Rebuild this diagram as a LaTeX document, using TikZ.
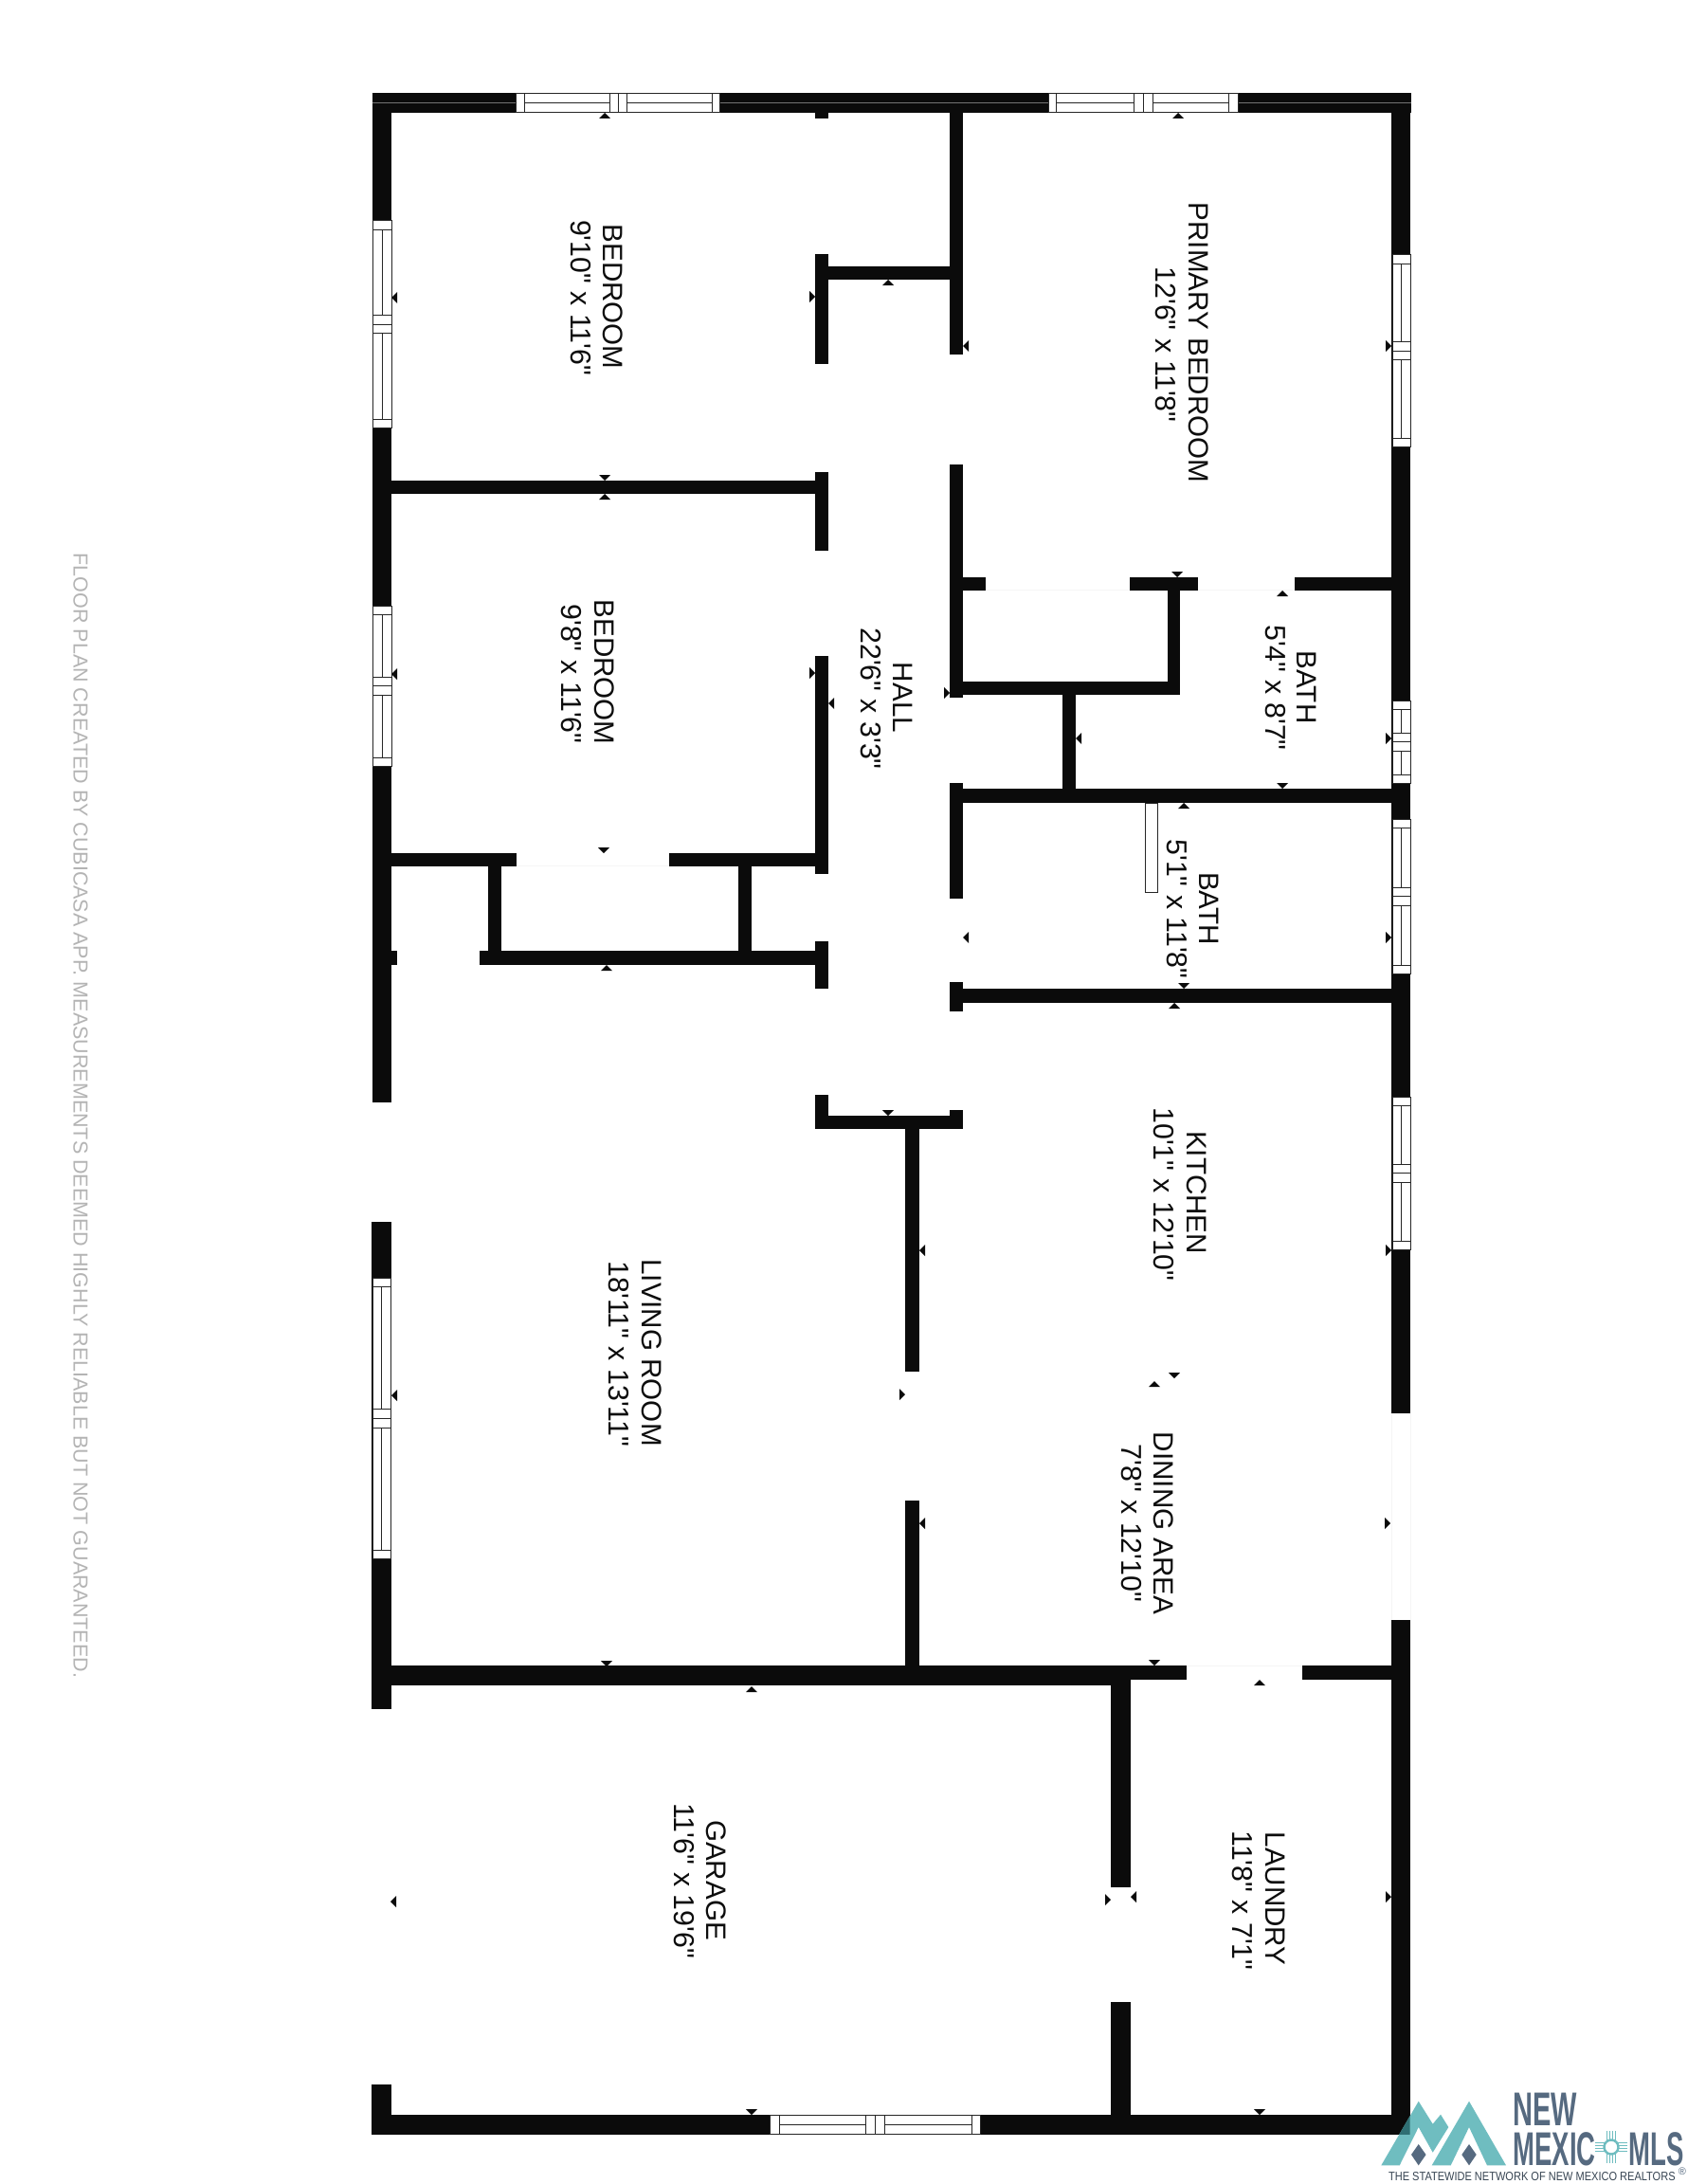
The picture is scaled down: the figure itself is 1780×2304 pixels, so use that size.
\documentclass[tikz,border=0pt]{standalone}
\usepackage{fontspec}
\newfontfamily\planfont{Liberation Sans}
\definecolor{wallc}{HTML}{0B0B0B}
\definecolor{teal1}{HTML}{6FBDC0}
\definecolor{tealdark}{HTML}{2F6F73}
\definecolor{slate1}{HTML}{566A80}
\definecolor{greyt}{HTML}{B4B4B4}
\newcommand\wl[4]{\fill[wallc] (#1,#2) rectangle (#3,#4);}
% horizontal window: x-stops then y1,y2
\newcommand\hwin[9]{%
  \filldraw[winbox] (#1,#8) rectangle (#7,#9);
  \foreach \mx in {#2,#3,#4,#5,#6} \draw[winline] (\mx,#8) -- (\mx,#9);
  \draw[winline] (#2,{(#8+#9)/2}) -- (#3,{(#8+#9)/2});
  \draw[winline] (#5,{(#8+#9)/2}) -- (#6,{(#8+#9)/2});}
% vertical window: y-stops then x1,x2
\newcommand\vwin[9]{%
  \filldraw[winbox] (#8,#1) rectangle (#9,#7);
  \foreach \my in {#2,#3,#4,#5,#6} \draw[winline] (#8,\my) -- (#9,\my);
  \draw[winline] ({(#8+#9)/2},#2) -- ({(#8+#9)/2},#3);
  \draw[winline] ({(#8+#9)/2},#5) -- ({(#8+#9)/2},#6);}
% markers: the apex is at the given point
\newcommand\mU[2]{\fill[wallc] (#1,#2) -- +(-6,6) -- +(6,6) -- cycle;}
\newcommand\mD[2]{\fill[wallc] (#1,#2) -- +(-6,-6) -- +(6,-6) -- cycle;}
\newcommand\mL[2]{\fill[wallc] (#1,#2) -- +(6,-6) -- +(6,6) -- cycle;}
\newcommand\mR[2]{\fill[wallc] (#1,#2) -- +(-6,-6) -- +(-6,6) -- cycle;}
\tikzset{
  winbox/.style={fill=white,draw=black!85,line width=1pt},
  winline/.style={draw=black!85,line width=1pt},
  doorline/.style={draw=black!4,line width=1pt},
  roomtext/.style={rotate=-90,inner sep=0pt,anchor=center,text height=21pt,text depth=0pt,
    font=\planfont\fontsize{29.6}{30}\selectfont,text=black!95},
  roomdim/.style={roomtext,font=\planfont\fontsize{30.3}{30}\selectfont},
  logotext/.style={inner sep=0pt,anchor=west,text=slate1,text height=36pt,text depth=0pt,
    font=\planfont\bfseries\fontsize{50}{50}\selectfont,transform shape},
  ziaray/.style={draw=teal1,line width=1.1pt},
}
\begin{document}
\begin{tikzpicture}[x=1pt,y=-1pt]
\useasboundingbox (0,0) rectangle (1780,2304);
\fill[white] (0,0) rectangle (1780,2304);
% --- outer walls
\wl{393}{98}{1489}{119}
\wl{393}{98}{413}{1163}
\wl{392}{1289}{413}{1803}
\wl{392}{2199}{413}{2252}
\wl{392}{2231}{1488}{2252}
\wl{1468}{98}{1488}{1491}
\wl{1468}{1709}{1488}{2252}
\draw[black!55,line width=.8pt] (393,108.5) -- (1489,108.5);
% --- faint door thresholds
\draw[doorline] (1252,1757.5) -- (1374,1757.5);
\draw[doorline] (1040,622.5) -- (1192,622.5);
\draw[doorline] (1264,622.5) -- (1366,622.5);
\draw[doorline] (545,913.5) -- (706,913.5);
\draw[doorline] (1468,1491) -- (1468,1709);
\draw[doorline] (1488,1491) -- (1488,1709);
% --- bedroom walls
\wl{860}{119}{874}{125}
\wl{860}{268}{874}{384}
\wl{874}{281}{1002}{295}
\wl{1002}{119}{1016}{374}
\wl{413}{507}{860}{521}
\wl{860}{498}{874}{581}
\wl{860}{692}{874}{922}
\wl{413}{900}{545}{914}
\wl{706}{900}{860}{914}
\wl{515}{914}{529}{1003}
\wl{779}{914}{792.5}{1003}
\wl{506}{1003}{860}{1018}
\wl{860}{993}{874}{1043}
\wl{413}{1003}{419}{1018}
% --- bath walls
\wl{1002}{490}{1016}{736}
\wl{1016}{609}{1040}{623}
\wl{1192}{609}{1264}{623}
\wl{1366}{609}{1468}{623}
\wl{1232}{623}{1245}{733}
\wl{1016}{719}{1245}{733}
\wl{1121}{733}{1135}{832}
\wl{1002}{832}{1488}{847}
\wl{1002}{826}{1016}{948}
\wl{1002}{1036}{1016}{1067}
\wl{1016}{1043}{1468}{1058}
\filldraw[fill=white,draw=black!85,line width=1pt] (1208.5,847) rectangle (1221.5,941);
% --- living and kitchen walls
\wl{1002}{1171}{1016}{1191}
\wl{860}{1155}{874}{1191}
\wl{874}{1177}{1002}{1191}
\wl{955}{1191}{970}{1447}
\wl{955}{1583}{970}{1757}
\wl{413}{1757}{1172}{1778}
\wl{1172}{1757}{1252}{1772}
\wl{1374}{1757}{1468}{1772}
\wl{1172}{1772}{1193}{1991}
\wl{1172}{2112}{1193}{2231}
% --- windows
\hwin{544}{553}{643}{652}{661}{751}{759.5}{99}{119}
\hwin{1106}{1114}{1196}{1206}{1216}{1296}{1306}{99}{119}
\hwin{812}{822}{913}{923}{933}{1025}{1034}{2231}{2251}
\vwin{232}{242}{332}{342}{351}{442}{451}{393.5}{413}
\vwin{639}{648}{714}{723.5}{733}{799}{808}{393.5}{413}
\vwin{1348}{1357}{1486}{1496}{1506}{1635}{1644}{393}{412.5}
\vwin{268}{278}{360}{370}{379}{462}{471}{1469}{1488}
\vwin{739}{748}{773}{782}{792}{817}{826}{1469}{1488}
\vwin{864}{873}{936}{945}{955}{1018}{1027}{1469}{1488}
\vwin{1157}{1166}{1228}{1237}{1247}{1309}{1318}{1469}{1488}
% --- measuring markers
\mU{638}{119} \mL{413}{314} \mU{937}{295} \mR{860}{313} \mD{638}{507} \mU{638}{521}
\mU{1243}{119} \mL{1016}{365} \mR{1468}{365} \mD{1242}{609}
\mR{860}{710} \mL{874}{742} \mR{1002}{731}
\mL{413}{711} \mD{637}{900} \mU{640}{1018}
\mU{1353}{623} \mL{1135}{779} \mR{1468}{779} \mD{1353}{832}
\mU{1249}{847} \mL{1016}{989} \mR{1468}{989} \mD{1249}{1043}
\mU{1239}{1058} \mD{937}{1177} \mL{970}{1319} \mR{1468}{1319}
\mR{955}{1471} \mD{1239}{1454} \mU{1218}{1457}
\mL{413}{1472} \mL{970}{1607} \mR{1467}{1607}
\mD{640}{1758} \mD{1218}{1757} \mU{793}{1779} \mU{1329}{1772}
\mL{412}{2006} \mR{1172}{2004} \mL{1193}{2001} \mR{1468}{2001}
\mD{793}{2231} \mD{1329}{2231}
% --- room labels
\node[roomtext] (bed1a) at (647,313) {BEDROOM};
\node[roomdim] (bed1b) at (613,314) {9'10" x 11'6"};
\node[roomtext] (prima) at (1265,361.5) {PRIMARY BEDROOM};
\node[roomdim] (primb) at (1230,363.5) {12'6" x 11'8"};
\node[roomtext] (bed2a) at (638,709) {BEDROOM};
\node[roomdim] (bed2b) at (603,711) {9'8" x 11'6"};
\node[roomtext] (halla) at (953,736) {HALL};
\node[roomdim] (hallb) at (919,737) {22'6" x 3'3"};
\node[roomtext] (bath1a) at (1379,725) {BATH};
\node[roomdim] (bath1b) at (1346,725.5) {5'4" x 8'7"};
\node[roomtext] (bath2a) at (1276,958.5) {BATH};
\node[roomdim] (bath2b) at (1242,959) {5'1" x 11'8"};
\node[roomtext] (kita) at (1263,1258) {KITCHEN};
\node[roomdim] (kitb) at (1228,1260) {10'1" x 12'10"};
\node[roomtext] (dina) at (1228,1607) {DINING AREA};
\node[roomdim] (dinb) at (1194,1607) {7'8" x 12'10"};
\node[roomtext] (liva) at (688,1427) {LIVING ROOM};
\node[roomdim] (livb) at (653,1428.5) {18'11" x 13'11"};
\node[roomtext] (gara) at (756,1983.5) {GARAGE};
\node[roomdim] (garb) at (722,1984) {11'6" x 19'6"};
\node[roomtext] (laua) at (1346,2003) {LAUNDRY};
\node[roomdim] (laub) at (1311,2005) {11'8" x 7'1"};
% --- margin note
\node[rotate=-90,inner sep=0pt,anchor=center,text=greyt,font=\planfont\fontsize{21.5}{22}\selectfont]
  (note) at (85,1177) {FLOOR PLAN CREATED BY CUBICASA APP. MEASUREMENTS DEEMED HIGHLY RELIABLE BUT NOT GUARANTEED.};
% --- logo
\def\mountA{(1457.3,2284.3) -- (1496.7,2216.7) -- (1511.7,2240.7) -- (1520,2230.7) -- (1528.3,2244) -- (1511.7,2270.7) -- (1496.7,2244) -- (1476.7,2284.3) -- cycle}
\def\mountB{(1510.7,2284.3) -- (1550,2216.7) -- (1589,2284.3) -- (1569,2284.3) -- (1550,2244) -- (1530.7,2284.3) -- cycle}
\fill[teal1] \mountA;
\fill[teal1] \mountB;
\begin{scope}
  \clip (1460,2220) rectangle (1487.5,2251.5);
  \fill[tealdark] \mountA;
\end{scope}
\fill[slate1] (1496.7,2262) -- (1504.5,2273) -- (1496.7,2284.3) -- (1489,2273) -- cycle;
\fill[slate1] (1550,2262) -- (1557.7,2273) -- (1550,2284.3) -- (1542.3,2273) -- cycle;
\begin{scope}[xscale=.58]
  \node[logotext] (lognew) at ({1596/.58},2224) {NEW};
\end{scope}
\begin{scope}[xscale=.55]
  \node[logotext] (logmex) at ({1596.5/.55},2266) {MEXIC};
  \node[logotext] (logmls) at ({1718.5/.55},2266) {MLS};
\end{scope}
% zia sun
\foreach \o in {-4.5,-1.5,1.5,4.5} {
  \draw[ziaray] (1700+\o,2248) -- (1700+\o,2282);
  \draw[ziaray] (1683,2265+\o) -- (1717,2265+\o);
}
\filldraw[fill=white,draw=teal1,line width=2.4pt] (1700,2265) circle (7.5);
\begin{scope}[xscale=.855]
\node[inner sep=0pt,anchor=west,text=black!35!slate1,transform shape,font=\planfont\fontsize{12.9}{14}\selectfont]
  (logtag) at ({1465/.855},2296) {THE STATEWIDE NETWORK OF NEW MEXICO REALTORS};
\end{scope}
\node[inner sep=0pt,anchor=center,text=slate1,font=\planfont\fontsize{11}{12}\selectfont]
  (logreg) at (1775,2291) {®};
\end{tikzpicture}
\end{document}
